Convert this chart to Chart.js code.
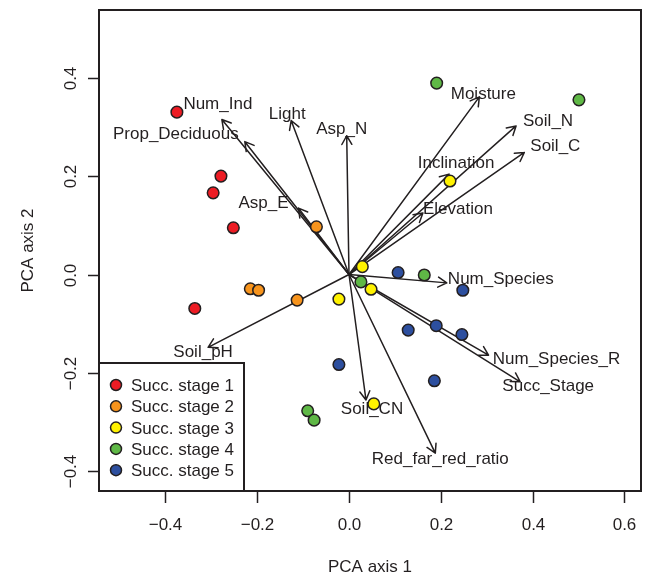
<!DOCTYPE html>
<html>
<head>
<meta charset="utf-8">
<title>PCA biplot</title>
<script src="https://cdn.jsdelivr.net/npm/chart.js@4.4.1/dist/chart.umd.min.js"></script>
<style>
    html, body { margin: 0; padding: 0; background: #fff; }
</style>
</head>
<body>
<canvas id="pcaChart" width="645" height="574"></canvas>
<script>
// Site scores, one array per succession stage: [PCA axis 1, PCA axis 2]
const stage1 = [[-0.375, 0.330], [-0.279, 0.200], [-0.296, 0.166], [-0.252, 0.095], [-0.336, -0.069]];
const stage2 = [[-0.071, 0.097], [-0.215, -0.029], [-0.197, -0.032], [-0.113, -0.052]];
const stage3 = [[0.220, 0.190], [0.029, 0.016], [0.048, -0.030], [-0.022, -0.050], [0.054, -0.263]];
const stage4 = [[0.191, 0.389], [0.501, 0.355], [0.164, -0.001], [0.026, -0.015], [-0.090, -0.277], [-0.076, -0.296]];
const stage5 = [[0.107, 0.004], [0.248, -0.032], [0.129, -0.113], [0.190, -0.104], [0.246, -0.122], [0.186, -0.216], [-0.022, -0.183]];

const stageNames = ['Succ. stage 1', 'Succ. stage 2', 'Succ. stage 3', 'Succ. stage 4', 'Succ. stage 5'];

// Environmental vectors (loadings)
const vectorNames = ['Num_Ind', 'Prop_Deciduous', 'Light', 'Asp_N', 'Asp_E', 'Moisture', 'Soil_N', 'Soil_C',
    'Inclination', 'Elevation', 'Num_Species', 'Num_Species_R', 'Succ_Stage', 'Soil_CN', 'Red_far_red_ratio', 'Soil_pH'];
const vectorX = [-0.277, -0.227, -0.126, -0.005, -0.110, 0.284, 0.364, 0.382,
    0.218, 0.161, 0.213, 0.304, 0.373, 0.037, 0.188, -0.307];
const vectorY = [0.315, 0.270, 0.313, 0.282, 0.135, 0.361, 0.302, 0.248,
    0.204, 0.125, -0.017, -0.164, -0.218, -0.255, -0.363, -0.148];

const xTicks = [-0.4, -0.2, 0.0, 0.2, 0.4, 0.6];
const yTicks = [-0.4, -0.2, 0.0, 0.2, 0.4];

// styling / layout
const stageColors = ['#ed1c24', '#f7941d', '#fff200', '#5fb846', '#2d4f9f'];
const ink = '#231f20';
const font = '17px "Liberation Sans", Arial, sans-serif';
// pixel nudges of vector labels relative to arrow tips
const labelNudge = [[-4, -15], [-69, -7], [-4, -6], [-5, -6], [-35, -5], [4, -3], [32, -5], [31, -6],
    [7, -11], [35, -4], [54, -4], [68, 4], [28, 5], [6, 9], [5, 6], [-5, 5]];

function fmt(v) {
    return (v < 0 ? '\u2212' : '') + Math.abs(v).toFixed(1);
}

const biplotPlugin = {
    id: 'biplot',
    beforeDatasetsDraw(chart) {
        const ctx = chart.ctx;
        const xs = chart.scales.x, ys = chart.scales.y;
        const ox = xs.getPixelForValue(0), oy = ys.getPixelForValue(0);
        ctx.save();
        ctx.strokeStyle = ink;
        ctx.lineWidth = 1.5;
        ctx.lineCap = 'round';
        ctx.lineJoin = 'round';
        vectorNames.forEach((name, i) => {
            const tx = xs.getPixelForValue(vectorX[i]);
            const ty = ys.getPixelForValue(vectorY[i]);
            const ang = Math.atan2(ty - oy, tx - ox);
            const len = 10, spread = Math.PI / 6;
            ctx.beginPath();
            ctx.moveTo(ox, oy);
            ctx.lineTo(tx, ty);
            ctx.moveTo(tx - len * Math.cos(ang - spread), ty - len * Math.sin(ang - spread));
            ctx.lineTo(tx, ty);
            ctx.lineTo(tx - len * Math.cos(ang + spread), ty - len * Math.sin(ang + spread));
            ctx.stroke();
        });
        ctx.fillStyle = ink;
        ctx.font = font;
        ctx.textAlign = 'center';
        ctx.textBaseline = 'middle';
        vectorNames.forEach((name, i) => {
            const tx = xs.getPixelForValue(vectorX[i]);
            const ty = ys.getPixelForValue(vectorY[i]);
            ctx.fillText(name, tx + labelNudge[i][0], ty + labelNudge[i][1]);
        });
        ctx.restore();
    },
    afterDatasetsDraw(chart) {
        const ctx = chart.ctx;
        const area = chart.chartArea;
        const xs = chart.scales.x, ys = chart.scales.y;
        ctx.save();
        ctx.strokeStyle = ink;
        ctx.fillStyle = ink;
        ctx.font = font;

        // legend box in the lower left corner
        const boxRight = 244, boxTop = 363;
        ctx.fillStyle = '#fff';
        ctx.fillRect(area.left, boxTop, boxRight - area.left, area.bottom - boxTop);
        ctx.lineWidth = 2;
        ctx.strokeRect(area.left, boxTop, boxRight - area.left, area.bottom - boxTop);
        stageNames.forEach((name, i) => {
            const cy = 385 + i * 21.3;
            ctx.beginPath();
            ctx.arc(116, cy, 5.5, 0, Math.PI * 2);
            ctx.fillStyle = stageColors[i];
            ctx.fill();
            ctx.lineWidth = 1.5;
            ctx.stroke();
            ctx.fillStyle = ink;
            ctx.textAlign = 'left';
            ctx.textBaseline = 'alphabetic';
            ctx.fillText(name, 131, cy + 6);
        });

        // plot frame
        ctx.lineWidth = 2;
        ctx.strokeRect(area.left, area.top, area.right - area.left, area.bottom - area.top);

        // x axis ticks and labels
        ctx.lineWidth = 1.5;
        ctx.textAlign = 'center';
        ctx.textBaseline = 'alphabetic';
        xTicks.forEach(v => {
            const px = Math.round(xs.getPixelForValue(v)) + 0.5;
            ctx.beginPath();
            ctx.moveTo(px, area.bottom);
            ctx.lineTo(px, area.bottom + 12);
            ctx.stroke();
            ctx.fillText(fmt(v), px, 530);
        });
        ctx.fillText('PCA axis 1', (area.left + area.right) / 2, 572);

        // y axis ticks and rotated labels
        yTicks.forEach(v => {
            const py = Math.round(ys.getPixelForValue(v)) + 0.5;
            ctx.beginPath();
            ctx.moveTo(area.left, py);
            ctx.lineTo(area.left - 11, py);
            ctx.stroke();
            ctx.save();
            ctx.translate(76, py);
            ctx.rotate(-Math.PI / 2);
            ctx.fillText(fmt(v), 0, 0);
            ctx.restore();
        });
        ctx.save();
        ctx.translate(33, (area.top + area.bottom) / 2);
        ctx.rotate(-Math.PI / 2);
        ctx.fillText('PCA axis 2', 0, 0);
        ctx.restore();
        ctx.restore();
    }
};

const stages = [stage1, stage2, stage3, stage4, stage5];

const ctx = document.getElementById('pcaChart').getContext('2d');
new Chart(ctx, {
    type: 'scatter',
    data: {
        datasets: stages.map((pts, i) => ({
            label: stageNames[i],
            data: pts.map(p => ({ x: p[0], y: p[1] })),
            backgroundColor: stageColors[i],
            borderColor: ink,
            borderWidth: 1.5,
            pointRadius: 5.8,
            pointHoverRadius: 5.8
        }))
    },
    options: {
        responsive: false,
        animation: false,
        devicePixelRatio: 1,
        layout: {
            autoPadding: false,
            padding: { left: 99, top: 10, right: 4, bottom: 83 }
        },
        plugins: {
            legend: { display: false },
            tooltip: { enabled: false }
        },
        scales: {
            x: { type: 'linear', min: -0.5447, max: 0.6362, display: false },
            y: { type: 'linear', min: -0.440, max: 0.5376, display: false }
        }
    },
    plugins: [biplotPlugin]
});
</script>
</body>
</html>
